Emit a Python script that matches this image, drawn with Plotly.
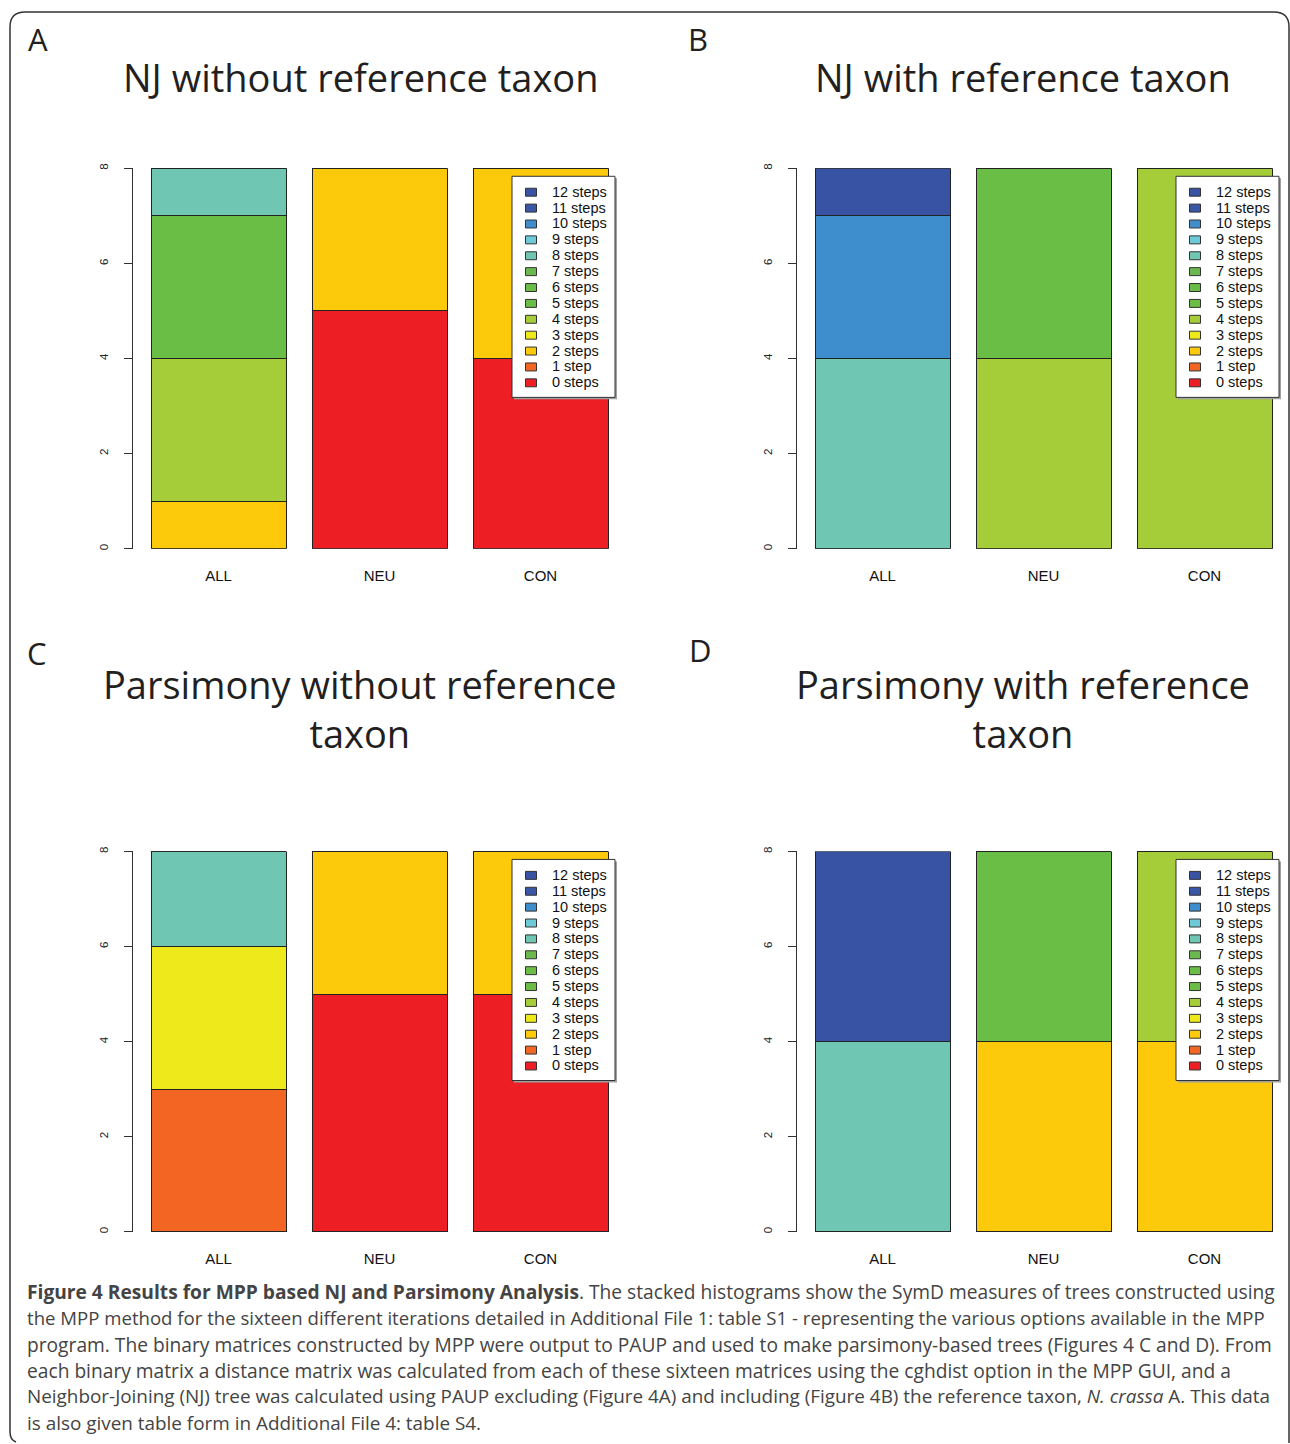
import plotly.graph_objects as go

W, H = 1290, 1444

categories = ["ALL", "NEU", "CON"]
step_labels = ["0 steps", "1 step", "2 steps", "3 steps", "4 steps", "5 steps", "6 steps",
               "7 steps", "8 steps", "9 steps", "10 steps", "11 steps", "12 steps"]
step_colors = ["#ed1f24", "#f26522", "#fcc90b", "#eee91b", "#a5cd39", "#6bbd45", "#6abd45",
               "#6ab84e", "#6fc6b2", "#6dcbd9", "#3e8ecd", "#3a56a6", "#3953a4"]
y_ticks = [0, 2, 4, 6, 8]

# counts per step (rows: 0..12 steps) for ALL, NEU, CON
nj_without = [[0, 5, 4], [0, 0, 0], [1, 3, 4], [0, 0, 0], [3, 0, 0], [0, 0, 0], [3, 0, 0],
              [0, 0, 0], [1, 0, 0], [0, 0, 0], [0, 0, 0], [0, 0, 0], [0, 0, 0]]
nj_with = [[0, 0, 0], [0, 0, 0], [0, 0, 0], [0, 0, 0], [0, 4, 8], [0, 0, 0], [0, 4, 0],
           [0, 0, 0], [4, 0, 0], [0, 0, 0], [3, 0, 0], [0, 0, 0], [1, 0, 0]]
pars_without = [[0, 5, 5], [3, 0, 0], [0, 3, 3], [3, 0, 0], [0, 0, 0], [0, 0, 0], [0, 0, 0],
                [0, 0, 0], [2, 0, 0], [0, 0, 0], [0, 0, 0], [0, 0, 0], [0, 0, 0]]
pars_with = [[0, 0, 0], [0, 0, 0], [0, 4, 4], [0, 0, 0], [0, 0, 4], [0, 0, 0], [0, 4, 0],
             [0, 0, 0], [4, 0, 0], [0, 0, 0], [0, 0, 0], [0, 0, 0], [4, 0, 0]]

panel_titles = ["NJ without reference taxon", "NJ with reference taxon",
                "Parsimony without reference<br>taxon", "Parsimony with reference<br>taxon"]
panel_letters = ["A", "B", "C", "D"]

caption_lines = [
    "<b>Figure 4 Results for MPP based NJ and Parsimony Analysis</b>. The stacked histograms show the SymD measures of trees constructed using",
    "the MPP method for the sixteen different iterations detailed in Additional File 1: table S1 - representing the various options available in the MPP",
    "program. The binary matrices constructed by MPP were output to PAUP and used to make parsimony-based trees (Figures 4 C and D). From",
    "each binary matrix a distance matrix was calculated from each of these sixteen matrices using the cghdist option in the MPP GUI, and a",
    "Neighbor-Joining (NJ) tree was calculated using PAUP excluding (Figure 4A) and including (Figure 4B) the reference taxon, <i>N. crassa</i> A. This data",
    "is also given table form in Additional File 4: table S4.",
]

DY = -3  # small global vertical correction for graphics


def px(x):
    return x / W


def py(y):
    return 1 - y / H


def gy(y):
    return py(y + DY)


fig = go.Figure()

panels = [nj_without, nj_with, pars_without, pars_with]
xaxis_left = [133, 797, 133, 797]
ytop = [167, 167, 853, 853]
ybot = [549, 549, 1235, 1235]
leg_x = [512, 1176, 512, 1176]
leg_y = [175, 175, 861, 861]
cat_w = 161.0
half_span = 85.5

TITLE_FONT = "Open Sans"
LEG_FONT = "Liberation Sans, Arial"
shapes = []
annotations = []

for i, data in enumerate(panels):
    n = i + 1
    xa = "x" if n == 1 else f"x{n}"
    ya = "y" if n == 1 else f"y{n}"
    for s in range(len(step_labels)):
        fig.add_trace(go.Bar(
            x=categories, y=data[s], name=step_labels[s],
            marker=dict(color=step_colors[s], line=dict(color="#222222", width=1)),
            xaxis=xa, yaxis=ya, showlegend=False, hoverinfo="skip",
        ))
    x0 = xaxis_left[i]
    x1 = min(x0 + 3 * cat_w, W)
    fig.update_layout(**{
        ("xaxis" if n == 1 else f"xaxis{n}"): dict(
            domain=[px(x0), px(x1)], anchor=ya,
            range=[-half_span / cat_w, -half_span / cat_w + (x1 - x0) / cat_w],
            showline=False, showgrid=False, zeroline=False,
            ticks="outside", ticklen=13, tickcolor="rgba(0,0,0,0)",
            tickfont=dict(family=LEG_FONT, size=15, color="#111"),
        ),
        ("yaxis" if n == 1 else f"yaxis{n}"): dict(
            domain=[gy(ybot[i]), gy(ytop[i])], anchor=xa,
            range=[0, 8], tickvals=y_ticks, ticks="outside", ticklen=8,
            tickcolor="#333", showline=True, linecolor="#333", linewidth=1,
            showgrid=False, zeroline=False, tickangle=-90, ticklabelstandoff=11,
            tickfont=dict(family=LEG_FONT, size=11.5, color="#222"),
        ),
    })

    # legend box (R style) drawn manually
    lx, ly = leg_x[i], leg_y[i]
    lw, lh = 103, 222
    shapes.append(dict(type="rect", xref="paper", yref="paper", layer="above",
                       x0=px(lx + 2), x1=px(lx + lw + 2), y0=gy(ly + lh + 2), y1=gy(ly + 2),
                       fillcolor="#a0a0a0", line=dict(width=0)))
    shapes.append(dict(type="rect", xref="paper", yref="paper", layer="above",
                       x0=px(lx), x1=px(lx + lw), y0=gy(ly + lh), y1=gy(ly),
                       fillcolor="white", line=dict(color="#333", width=1)))
    for k in range(len(step_labels)):
        s = len(step_labels) - 1 - k
        iy = ly + 16 + k * 15.95
        shapes.append(dict(type="rect", xref="paper", yref="paper", layer="above",
                           x0=px(lx + 13.5), x1=px(lx + 24.5), y0=gy(iy + 4), y1=gy(iy - 4),
                           fillcolor=step_colors[s], line=dict(color="#333", width=1)))
        annotations.append(dict(
            text=step_labels[s], x=px(lx + 37.5), y=gy(iy - 0.5), xref="paper", yref="paper",
            showarrow=False, xanchor="left", yanchor="middle",
            font=dict(family=LEG_FONT, size=14.5, color="#111"),
        ))

title_pos = [(360, 72), (1023, 72), (360, 706), (1023, 706)]
letter_pos = [(38, 34), (698, 34), (37, 651), (700, 648)]
for i in range(4):
    annotations.append(dict(
        text=panel_titles[i], x=px(title_pos[i][0]), y=py(title_pos[i][1]),
        xref="paper", yref="paper", showarrow=False, xanchor="center", yanchor="middle",
        font=dict(family=TITLE_FONT, size=38, color="#231f20"),
    ))
    annotations.append(dict(
        text=panel_letters[i], x=px(letter_pos[i][0]), y=py(letter_pos[i][1]),
        xref="paper", yref="paper", showarrow=False, xanchor="center", yanchor="middle",
        font=dict(family=TITLE_FONT, size=31, color="#231f20"),
    ))

cap_y = [1292, 1318, 1345, 1371, 1397, 1424]
cap_size = [19.2, 18.6, 19.2, 19.2, 18.9, 18.9]
for line, yy, fs in zip(caption_lines, cap_y, cap_size):
    annotations.append(dict(
        text=line, x=px(25), y=py(yy), xref="paper", yref="paper", showarrow=False,
        xanchor="left", yanchor="middle",
        font=dict(family="Open Sans", size=fs, color="#444"),
    ))

r = 15
frame = (f"M {px(16)},{gy(1446)} Q {px(10)},{gy(1444)} {px(10)},{gy(1436)} "
         f"L {px(10)},{gy(10 + r)} Q {px(10)},{gy(10)} {px(10 + r)},{gy(10)} "
         f"L {px(1289 - r)},{gy(10)} Q {px(1289)},{gy(10)} {px(1289)},{gy(10 + r)} L {px(1289)},{py(1444)}")
shapes.insert(0, dict(type="path", path=frame, xref="paper", yref="paper",
                      line=dict(color="#333", width=1.5), layer="below"))

fig.update_layout(
    width=W, height=H, margin=dict(l=0, r=0, t=0, b=0),
    paper_bgcolor="white", plot_bgcolor="white",
    barmode="stack", bargap=26 / cat_w,
    annotations=annotations, shapes=shapes, showlegend=False,
)

post = ("document.body.style.margin='0';document.body.style.padding='0';"
        "document.body.style.overflow='hidden';"
        "var gd=document.getElementById('{plot_id}');"
        "gd.style.position='fixed';gd.style.top='0px';gd.style.left='0px';")
fig.write_html("out.html", config={"displayModeBar": False}, post_script=post)
